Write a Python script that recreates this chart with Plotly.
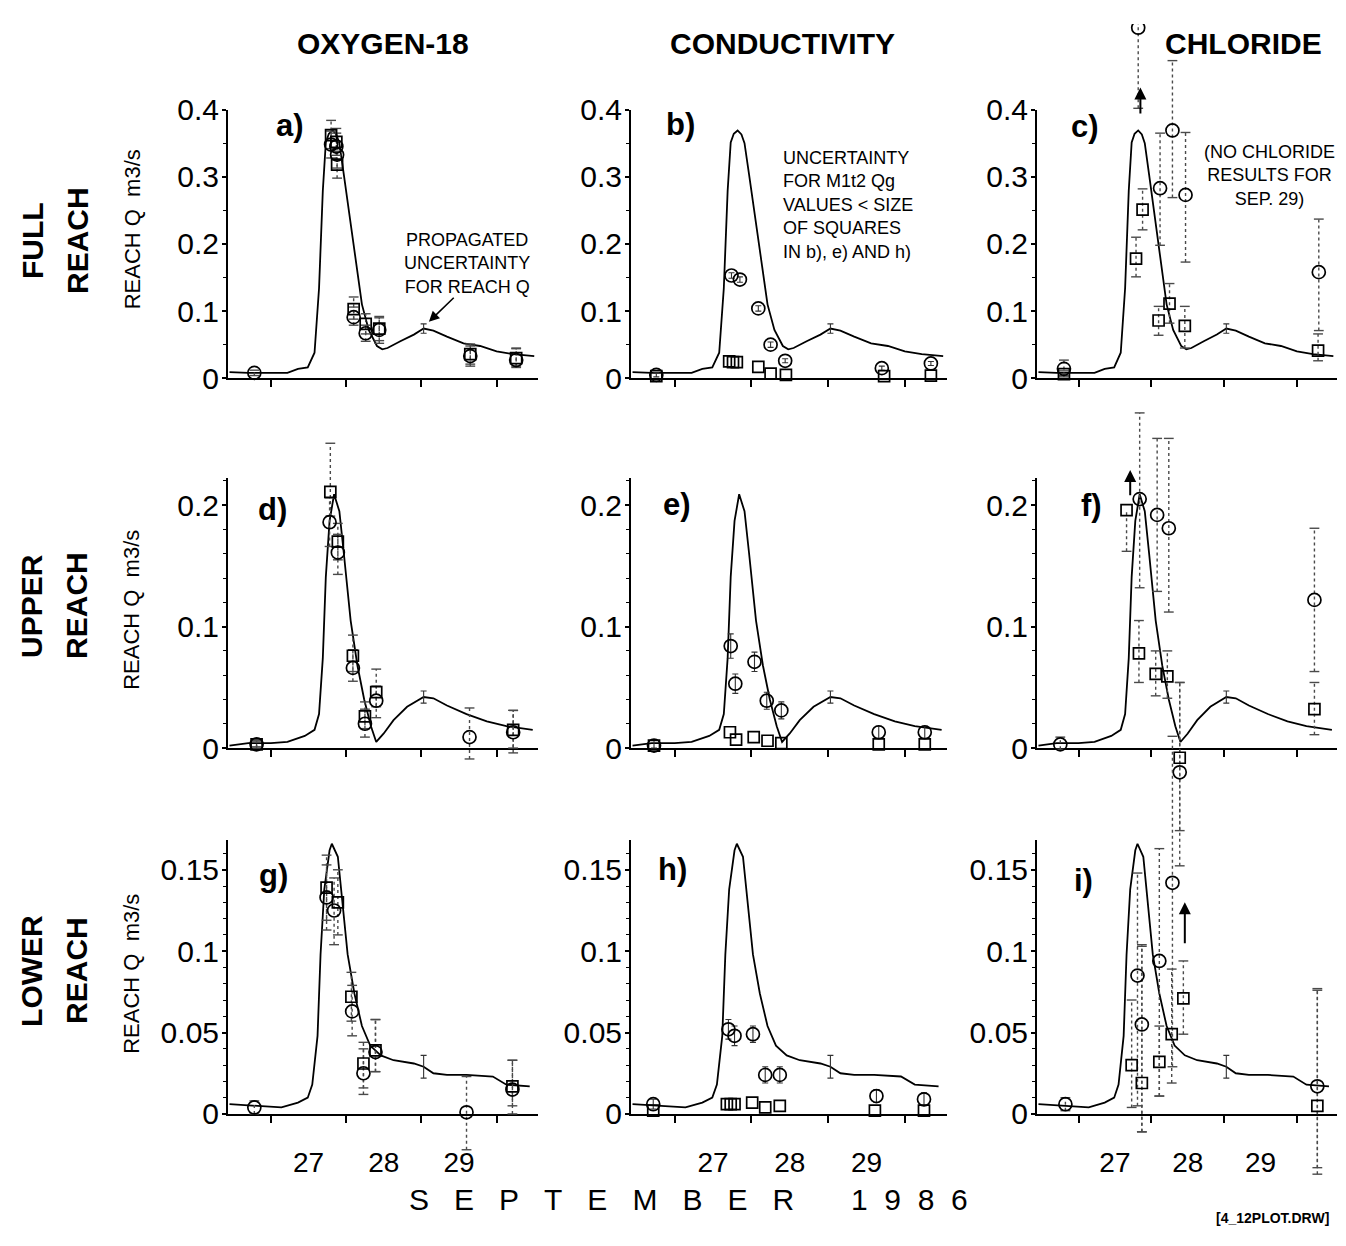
import plotly.graph_objects as go

FONT = "Liberation Sans, Arial, Helvetica, sans-serif"
PAGE_W, PAGE_H = 1346, 1246
OFF = 8                      # default page margin around the figure div
W, H = PAGE_W - 2 * OFF, PAGE_H - 2 * OFF

# ---------------- hydrographs: reach discharge Q (m3/s) vs day of September 1986
T_FULL = [26.45, 26.70, 27.00, 27.22, 27.36, 27.49, 27.58, 27.64, 27.69, 27.73, 27.77, 27.82,
          27.87, 27.91, 27.97, 28.06, 28.15, 28.21, 28.30, 28.41, 28.48, 28.55, 28.72, 28.90,
          29.03, 29.16, 29.34, 29.56, 29.78, 30.00, 30.22, 30.50]
Q_FULL = [0.009, 0.008, 0.008, 0.008, 0.014, 0.016, 0.038, 0.134, 0.279, 0.351, 0.364, 0.369,
          0.363, 0.350, 0.303, 0.231, 0.154, 0.110, 0.072, 0.048, 0.043, 0.045, 0.055, 0.065,
          0.074, 0.071, 0.062, 0.052, 0.048, 0.040, 0.036, 0.033]

T_UPPER = [26.45, 26.70, 27.00, 27.22, 27.45, 27.58, 27.64, 27.69, 27.73, 27.78, 27.84, 27.91,
           27.97, 28.06, 28.15, 28.24, 28.33, 28.40, 28.50, 28.63, 28.81, 29.03, 29.16, 29.34,
           29.60, 29.87, 30.13, 30.48]
Q_UPPER = [0.002, 0.004, 0.004, 0.005, 0.010, 0.015, 0.028, 0.074, 0.141, 0.187, 0.209, 0.195,
           0.160, 0.105, 0.068, 0.040, 0.018, 0.005, 0.012, 0.023, 0.034, 0.042, 0.041, 0.035,
           0.028, 0.022, 0.018, 0.015]

T_LOWER = [26.45, 26.83, 27.14, 27.36, 27.49, 27.55, 27.62, 27.66, 27.71, 27.78, 27.81, 27.89,
           27.95, 28.02, 28.11, 28.21, 28.32, 28.46, 28.63, 28.90, 29.03, 29.16, 29.34, 29.60,
           29.95, 30.13, 30.44]
Q_LOWER = [0.006, 0.005, 0.004, 0.007, 0.010, 0.018, 0.048, 0.098, 0.138, 0.162, 0.166, 0.158,
           0.132, 0.098, 0.074, 0.054, 0.042, 0.036, 0.033, 0.031, 0.029, 0.025, 0.024, 0.024,
           0.023, 0.018, 0.017]

# propagated uncertainty on reach Q: (day, Q, +err, -err)
QU_FULL = [(29.03, 0.074, 0.007, 0.007)]
QU_UPPER = [(29.03, 0.042, 0.005, 0.005)]
QU_LOWER = [(29.03, 0.029, 0.007, 0.007)]

# ---------------- tracer-derived discharges: (day, Q, +err, -err)
A_CIRCLES = [(26.78, 0.008, 0.004, 0.004), (27.80, 0.348, 0.020, 0.020), (27.87, 0.345, 0.020, 0.020),
             (27.88, 0.333, 0.020, 0.020), (28.10, 0.091, 0.015, 0.012), (28.26, 0.067, 0.012, 0.012),
             (28.44, 0.072, 0.018, 0.020), (29.65, 0.033, 0.015, 0.015), (30.26, 0.027, 0.017, 0.011)]
A_SQUARES = [(27.80, 0.362, 0.022, 0.020), (27.87, 0.352, 0.020, 0.020), (27.88, 0.318, 0.020, 0.020),
             (28.10, 0.103, 0.018, 0.015), (28.26, 0.081, 0.015, 0.015), (28.44, 0.074, 0.018, 0.018),
             (29.65, 0.036, 0.015, 0.015), (30.26, 0.030, 0.015, 0.012)]

B_CIRCLES = [(26.76, 0.005, 0.003, 0.003), (27.74, 0.153, 0.004, 0.004), (27.85, 0.147, 0.004, 0.004),
             (28.09, 0.104, 0.004, 0.004), (28.25, 0.050, 0.004, 0.004), (28.44, 0.026, 0.003, 0.003),
             (29.70, 0.015, 0.003, 0.003), (30.34, 0.022, 0.003, 0.003)]
B_SQUARES = [(26.76, 0.003), (27.71, 0.025), (27.76, 0.024), (27.81, 0.024), (28.09, 0.017),
             (28.25, 0.007), (28.45, 0.005), (29.73, 0.003), (30.34, 0.004)]

C_CIRCLES = [(26.80, 0.014, 0.013, 0.010), (27.82, 0.522, 0.080, 0.120), (28.12, 0.283, 0.082, 0.085),
             (28.29, 0.369, 0.104, 0.100), (28.47, 0.273, 0.093, 0.100), (30.30, 0.158, 0.079, 0.087)]
C_SQUARES = [(26.80, 0.006, 0.005, 0.004), (27.79, 0.178, 0.032, 0.027), (27.88, 0.251, 0.031, 0.030),
             (28.10, 0.086, 0.021, 0.022), (28.25, 0.111, 0.030, 0.029), (28.46, 0.078, 0.029, 0.033),
             (30.29, 0.041, 0.025, 0.015)]

D_CIRCLES = [(26.81, 0.003, 0.003, 0.003), (27.78, 0.186, 0.020, 0.020), (27.89, 0.161, 0.015, 0.018),
             (28.09, 0.066, 0.015, 0.011), (28.25, 0.020, 0.012, 0.011), (28.40, 0.039, 0.012, 0.014),
             (29.64, 0.009, 0.024, 0.018), (30.22, 0.013, 0.018, 0.017)]
D_SQUARES = [(26.81, 0.003, 0.002, 0.002), (27.79, 0.211, 0.040, 0.020), (27.89, 0.170, 0.015, 0.015),
             (28.09, 0.076, 0.017, 0.013), (28.25, 0.026, 0.012, 0.010), (28.40, 0.046, 0.019, 0.012),
             (30.22, 0.015, 0.016, 0.015)]

E_CIRCLES = [(26.73, 0.002, 0.004, 0.002), (27.73, 0.084, 0.010, 0.010), (27.79, 0.053, 0.008, 0.008),
             (28.04, 0.071, 0.008, 0.008), (28.20, 0.039, 0.007, 0.007), (28.39, 0.031, 0.007, 0.007),
             (29.66, 0.013, 0.005, 0.005), (30.26, 0.013, 0.005, 0.005)]
E_SQUARES = [(26.73, 0.002), (27.72, 0.013), (27.80, 0.007), (28.03, 0.009), (28.21, 0.006),
             (28.39, 0.004), (29.66, 0.003), (30.26, 0.003)]

F_CIRCLES = [(26.75, 0.003, 0.006, 0.004), (27.84, 0.205, 0.071, 0.073), (28.08, 0.192, 0.063, 0.063),
             (28.24, 0.181, 0.074, 0.069), (28.39, -0.020, 0.074, 0.077), (30.24, 0.122, 0.059, 0.059)]
F_SQUARES = [(27.66, 0.196, 0.000, 0.034), (27.83, 0.078, 0.027, 0.024), (28.06, 0.061, 0.019, 0.018),
             (28.22, 0.059, 0.021, 0.018), (28.39, -0.008, 0.062, 0.060), (30.24, 0.032, 0.022, 0.021)]

G_CIRCLES = [(26.78, 0.004, 0.004, 0.004), (27.74, 0.133, 0.020, 0.020), (27.84, 0.125, 0.020, 0.021),
             (28.08, 0.063, 0.016, 0.015), (28.23, 0.025, 0.015, 0.013), (28.39, 0.038, 0.020, 0.012),
             (29.60, 0.001, 0.022, 0.023), (30.21, 0.015, 0.018, 0.015)]
G_SQUARES = [(27.74, 0.139, 0.020, 0.020), (27.89, 0.130, 0.020, 0.020), (28.07, 0.072, 0.015, 0.015),
             (28.23, 0.031, 0.013, 0.015), (28.39, 0.039, 0.019, 0.013), (30.21, 0.017, 0.016, 0.012)]

H_CIRCLES = [(26.72, 0.006, 0.003, 0.003), (27.70, 0.052, 0.006, 0.006), (27.78, 0.048, 0.006, 0.006),
             (28.02, 0.049, 0.005, 0.005), (28.18, 0.024, 0.005, 0.005), (28.37, 0.024, 0.005, 0.005),
             (29.63, 0.011, 0.004, 0.004), (30.25, 0.009, 0.004, 0.004)]
H_SQUARES = [(26.72, 0.002), (27.68, 0.006), (27.73, 0.006), (27.78, 0.006), (28.01, 0.007),
             (28.18, 0.004), (28.37, 0.005), (29.61, 0.002), (30.25, 0.002)]

I_CIRCLES = [(26.82, 0.006, 0.004, 0.004), (27.81, 0.085, 0.063, 0.080), (27.87, 0.055, 0.048, 0.066),
             (28.11, 0.094, 0.069, 0.083), (28.29, 0.142, 0.090, 0.113), (30.28, 0.017, 0.060, 0.050)]
I_SQUARES = [(27.73, 0.030, 0.040, 0.026), (27.87, 0.019, 0.085, 0.030), (28.11, 0.032, 0.022, 0.021),
             (28.28, 0.049, 0.040, 0.030), (28.44, 0.071, 0.023, 0.022), (30.28, 0.005, 0.071, 0.042)]

# off-scale arrows: (panel index, day, tail Q, head Q)
ARROWS = [(2, 27.85, 0.392, 0.433), (5, 27.71, 0.207, 0.229), (8, 28.46, 0.104, 0.130)]

# ---------------- labels
COLUMN_TITLES = ["OXYGEN-18", "CONDUCTIVITY", "CHLORIDE"]
ROW_WORDS = [("FULL", "REACH"), ("UPPER", "REACH"), ("LOWER", "REACH")]
PANEL_LETTERS = ["a)", "b)", "c)", "d)", "e)", "f)", "g)", "h)", "i)"]
Y_TITLE = "REACH Q  m3/s"
DAY_TICKS = [27, 28, 29, 30]
DAY_LABEL_POS = [27.5, 28.5, 29.5]
DAY_LABELS = ["27", "28", "29"]
Y_TICKS = [[0, 0.1, 0.2, 0.3, 0.4], [0, 0.1, 0.2], [0, 0.05, 0.1, 0.15]]
Y_TICKTEXT = [["0", "0.1", "0.2", "0.3", "0.4"], ["0", "0.1", "0.2"], ["0", "0.05", "0.1", "0.15"]]
Y_MINOR = [0.05, 0.02, 0.01]
Y_RANGES = [[0, 0.4], [0, 0.222], [0, 0.168]]
X_RANGE = [26.43, 30.55]

# ---------------- geometry (page pixels)
COL_PX = [(228, 538), (631, 947), (1037, 1337)]
ROW_PX = [(96, 372), (475, 752), (847, 1128)]
LETTER_PX = [(290, 112), (680, 111), (1085, 113), (272, 507), (677, 502), (1091, 503),
             (273, 883), (672, 877), (1083, 888)]
ROW_TITLE_Y = [231, 606, 981]
Y_TITLE_Y = [219, 610, 984]


def fx(xp):
    return min(1.0, max(0.0, (xp - OFF) / W))


def fy(yp):
    return min(1.0, max(0.0, 1 - (yp - OFF) / H))


hydro = [(T_FULL, Q_FULL, QU_FULL), (T_UPPER, Q_UPPER, QU_UPPER), (T_LOWER, Q_LOWER, QU_LOWER)]
panels = [(A_CIRCLES, A_SQUARES), (B_CIRCLES, B_SQUARES), (C_CIRCLES, C_SQUARES),
          (D_CIRCLES, D_SQUARES), (E_CIRCLES, E_SQUARES), (F_CIRCLES, F_SQUARES),
          (G_CIRCLES, G_SQUARES), (H_CIRCLES, H_SQUARES), (I_CIRCLES, I_SQUARES)]

ERR_COLOR = "#4a4a4a"


def marker_trace(pts, symbol, size, xa, ya):
    return go.Scatter(x=[p[0] for p in pts], y=[p[1] for p in pts], mode="markers",
                      marker=dict(symbol=symbol, size=size, color="black",
                                  line=dict(color="black", width=1.7)),
                      xaxis=xa, yaxis=ya, showlegend=False, hoverinfo="x+y")


def dotted_error_traces(pts, xa, ya):
    """Dotted error bars with solid caps, built from (day, Q, +err, -err) tuples."""
    bx, by, cx, cy = [], [], [], []
    for d, v, ep, em in pts:
        bx += [d, d, None]
        by += [v - em, v + ep, None]
        if ep > 0:
            cx.append(d)
            cy.append(v + ep)
        if em > 0:
            cx.append(d)
            cy.append(v - em)
    bars = go.Scatter(x=bx, y=by, mode="lines", line=dict(color=ERR_COLOR, width=1.4, dash="dot"),
                      xaxis=xa, yaxis=ya, showlegend=False, hoverinfo="skip")
    caps = go.Scatter(x=cx, y=cy, mode="markers",
                      marker=dict(symbol="line-ew-open", size=7, color=ERR_COLOR,
                                  line=dict(color=ERR_COLOR, width=1.4)),
                      xaxis=xa, yaxis=ya, showlegend=False, hoverinfo="skip")
    return [bars, caps]


def solid_error_trace(pts, xa, ya):
    return go.Scatter(x=[p[0] for p in pts], y=[p[1] for p in pts], mode="markers",
                      marker=dict(size=1, color="rgba(0,0,0,0)"),
                      error_y=dict(type="data", symmetric=False,
                                   array=[p[2] for p in pts], arrayminus=[p[3] for p in pts],
                                   color="#333333", thickness=1.1, width=3),
                      xaxis=xa, yaxis=ya, showlegend=False, hoverinfo="skip")


fig = go.Figure()
layout = dict(width=W, height=H, margin=dict(l=0, r=0, t=0, b=0),
              paper_bgcolor="white", plot_bgcolor="rgba(0,0,0,0)",
              font=dict(family=FONT, color="black"), showlegend=False)
annotations = []

for k in range(9):
    r, c = divmod(k, 3)
    xa = "x" if k == 0 else f"x{k + 1}"
    ya = "y" if k == 0 else f"y{k + 1}"
    yo = f"y{k + 10}"                       # full-height companion axis, same scale
    t, q, qu = hydro[r]
    circles, squares = panels[k]

    x0, x1 = COL_PX[c]
    y0, y1 = ROW_PX[r]
    d0, d1 = fy(y1), fy(y0)
    r0, r1 = Y_RANGES[r]
    per = (r1 - r0) / (d1 - d0)
    over_range = [r0 - d0 * per, r1 + (1 - d1) * per]

    fig.add_trace(go.Scatter(x=t, y=q, mode="lines", line=dict(color="black", width=1.8),
                             xaxis=xa, yaxis=ya, showlegend=False, hoverinfo="skip"))
    fig.add_trace(solid_error_trace(qu, xa, ya))
    for pts in (squares, circles):
        if len(pts[0]) > 2:
            if c == 1:
                fig.add_trace(solid_error_trace(pts, xa, yo))
            else:
                for tr in dotted_error_traces(pts, xa, yo):
                    fig.add_trace(tr)
    fig.add_trace(marker_trace(squares, "square-open", 11, xa, yo))
    fig.add_trace(marker_trace(circles, "circle-open", 13, xa, yo))

    xkey = "xaxis" if k == 0 else f"xaxis{k + 1}"
    ykey = "yaxis" if k == 0 else f"yaxis{k + 1}"
    layout[xkey] = dict(domain=[fx(x0), fx(x1)], range=X_RANGE, anchor=ya,
                        showline=True, linecolor="black", linewidth=2, showgrid=False,
                        zeroline=False, tickmode="array", tickvals=DAY_LABEL_POS,
                        ticktext=DAY_LABELS if r == 2 else ["", "", ""], ticks="",
                        tickfont=dict(family=FONT, size=28, color="black"),
                        ticklabelstandoff=22,
                        minor=dict(tickmode="array", tickvals=DAY_TICKS, ticks="outside",
                                   ticklen=7, tickwidth=1.5, tickcolor="black", showgrid=False))
    layout[ykey] = dict(domain=[d0, d1], range=[r0, r1], anchor=xa,
                        showline=True, linecolor="black", linewidth=2, showgrid=False,
                        zeroline=False, tickmode="array", tickvals=Y_TICKS[r],
                        ticktext=Y_TICKTEXT[r], ticks="outside", ticklen=4, tickwidth=1.5,
                        tickcolor="black", tickfont=dict(family=FONT, size=30, color="black"),
                        ticklabelstandoff=-3,
                        minor=dict(dtick=Y_MINOR[r], ticks="outside", ticklen=3, tickwidth=1,
                                   tickcolor="black", showgrid=False))
    layout[f"yaxis{k + 10}"] = dict(domain=[0, 1], range=over_range, anchor=xa, visible=False,
                                    showgrid=False, zeroline=False)

    lx, ly = LETTER_PX[k]
    annotations.append(dict(text=PANEL_LETTERS[k], x=fx(lx), y=fy(ly), xref="paper", yref="paper",
                            xanchor="center", yanchor="middle", showarrow=False,
                            font=dict(family=FONT, size=31, weight="bold", color="black")))

# off-scale arrows (drawn on the full-height companion axes)
for idx, d, q_tail, q_head in ARROWS:
    xa = f"x{idx + 1}"
    ya = f"y{idx + 10}"
    annotations.append(dict(text="", x=d, y=q_head, xref=xa, yref=ya, ax=d, ay=q_tail,
                            axref=xa, ayref=ya, showarrow=True, arrowhead=2, arrowsize=1.2,
                            arrowwidth=2, arrowcolor="black"))

# arrow from "propagated uncertainty" note to the hydrograph in a)
annotations.append(dict(text="", x=29.10, y=0.084, xref="x", yref="y", ax=29.45, ay=0.122,
                        axref="x", ayref="y", showarrow=True, arrowhead=2, arrowsize=1.3,
                        arrowwidth=1.6, arrowcolor="black"))

# column titles
for cx, title in zip([383, 782, 1243], COLUMN_TITLES):
    annotations.append(dict(text=title, x=fx(cx), y=fy(28), xref="paper", yref="paper",
                            xanchor="center", yanchor="middle", showarrow=False,
                            font=dict(family=FONT, size=30, weight="bold", color="black")))

# row titles and y-axis titles
for r in range(3):
    for word, wx in zip(ROW_WORDS[r], [32, 77]):
        annotations.append(dict(text=word, x=fx(wx), y=fy(ROW_TITLE_Y[r]), xref="paper",
                                yref="paper", xanchor="center", yanchor="middle",
                                textangle=-90, showarrow=False,
                                font=dict(family=FONT, size=30, weight="bold", color="black")))
    annotations.append(dict(text=Y_TITLE, x=fx(132), y=fy(Y_TITLE_Y[r]), xref="paper",
                            yref="paper", xanchor="center", yanchor="middle", textangle=-90,
                            showarrow=False, font=dict(family=FONT, size=22, color="black")))

# notes inside panels
annotations.append(dict(text="PROPAGATED<br>UNCERTAINTY<br>FOR REACH Q", x=fx(467), y=fy(254),
                        xref="paper", yref="paper", xanchor="center", yanchor="middle",
                        align="center", showarrow=False,
                        font=dict(family=FONT, size=18, color="black")))
annotations.append(dict(text="UNCERTAINTY<br>FOR M1t2 Qg<br>VALUES &lt; SIZE<br>OF SQUARES<br>IN b), e) AND h)",
                        x=fx(781), y=fy(194), xref="paper", yref="paper", xanchor="left",
                        yanchor="middle", align="left", showarrow=False,
                        font=dict(family=FONT, size=18, color="black")))
annotations.append(dict(text="(NO CHLORIDE<br>RESULTS FOR<br>SEP. 29)", x=fx(1269), y=fy(164),
                        xref="paper", yref="paper", xanchor="center", yanchor="middle",
                        align="center", showarrow=False,
                        font=dict(family=FONT, size=18, color="black")))

# bottom captions
NB = "\u00a0"
month = (NB * 3).join("SEPTEMBER")
year = (NB * 2).join("1986")
annotations.append(dict(text=month, x=fx(601), y=fy(1216), xref="paper", yref="paper",
                        xanchor="center", yanchor="middle", showarrow=False,
                        font=dict(family=FONT, size=30, color="black")))
annotations.append(dict(text=year, x=fx(909), y=fy(1216), xref="paper", yref="paper",
                        xanchor="center", yanchor="middle", showarrow=False,
                        font=dict(family=FONT, size=30, color="black")))
annotations.append(dict(text="[4_12PLOT.DRW]", x=fx(1272), y=fy(1235), xref="paper", yref="paper",
                        xanchor="center", yanchor="middle", showarrow=False,
                        font=dict(family=FONT, size=14, weight="bold", color="black")))

layout["annotations"] = annotations
fig.update_layout(**layout)
fig.write_html("out.html")
